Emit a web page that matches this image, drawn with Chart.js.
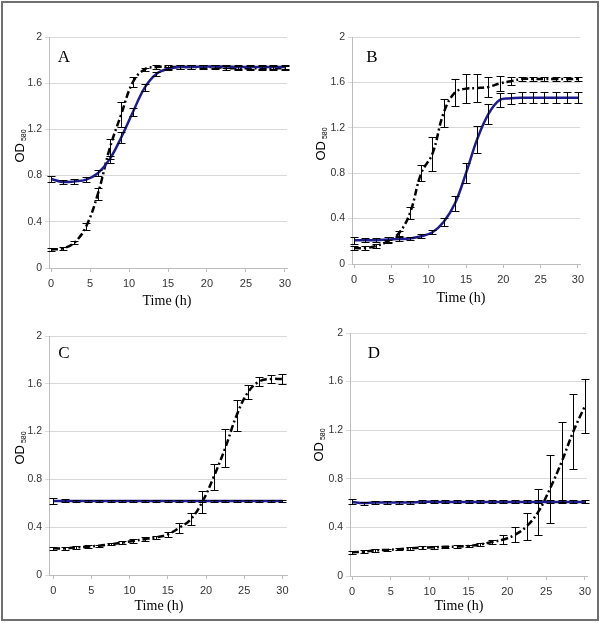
<!DOCTYPE html>
<html>
<head>
<meta charset="utf-8">
<script src="https://cdn.jsdelivr.net/npm/chart.js@4.4.1/dist/chart.umd.min.js"></script>
<style>
  body { margin: 0; background: #fff; }
  #fig { position: relative; width: 600px; height: 623px; overflow: hidden; }
  #frame { position: absolute; left: 1px; top: 1px; width: 594px; height: 616px; border: 2px solid #707070; }
  canvas { position: absolute; }
</style>
</head>
<body>
<div id="fig">
  <div id="frame"></div>
  <canvas id="chartA" width="300" height="312" style="left:0;top:0"></canvas>
  <canvas id="chartB" width="300" height="312" style="left:300px;top:0"></canvas>
  <canvas id="chartC" width="300" height="311" style="left:0;top:312px"></canvas>
  <canvas id="chartD" width="300" height="311" style="left:300px;top:312px"></canvas>
</div>
<script>
// sampling times (h)
const hours = [0, 1.5, 3, 4.5, 6, 7.5, 9, 10.5, 12, 13.5, 15, 16.5, 18, 19.5, 21, 22.5, 24, 25.5, 27, 28.5, 30];
const xTicks = [0, 5, 10, 15, 20, 25, 30];
const yTicks = [0, 0.4, 0.8, 1.2, 1.6, 2];
const yTickLabels = ['0', '0.4', '0.8', '1.2', '1.6', '2'];

// panel A
const aDashed = [0.16, 0.17, 0.22, 0.36, 0.64, 1.03, 1.33, 1.61, 1.72, 1.74, 1.74, 1.74, 1.74, 1.74, 1.74, 1.73, 1.73, 1.73, 1.73, 1.73, 1.73];
const aDashedErr = [0.015, 0.012, 0.015, 0.03, 0.055, 0.085, 0.11, 0.04, 0.015, 0.015, 0.015, 0.015, 0.015, 0.015, 0.015, 0.015, 0.015, 0.015, 0.015, 0.015, 0.015];
const aSolid = [0.77, 0.745, 0.75, 0.765, 0.82, 0.94, 1.13, 1.35, 1.56, 1.68, 1.725, 1.74, 1.74, 1.745, 1.745, 1.745, 1.74, 1.74, 1.74, 1.74, 1.74];
const aSolidErr = [0.025, 0.02, 0.02, 0.02, 0.025, 0.03, 0.045, 0.035, 0.03, 0.015, 0.015, 0.015, 0.015, 0.015, 0.015, 0.015, 0.015, 0.015, 0.015, 0.015, 0.015];

// panel B
const bDashed = [0.14, 0.14, 0.16, 0.20, 0.27, 0.45, 0.80, 0.97, 1.33, 1.51, 1.545, 1.55, 1.56, 1.59, 1.61, 1.63, 1.63, 1.63, 1.63, 1.63, 1.63];
const bDashedErr = [0.015, 0.015, 0.015, 0.015, 0.02, 0.05, 0.07, 0.15, 0.12, 0.12, 0.13, 0.12, 0.09, 0.07, 0.035, 0.02, 0.02, 0.02, 0.02, 0.02, 0.02];
const bSolid = [0.21, 0.21, 0.21, 0.215, 0.22, 0.225, 0.245, 0.28, 0.37, 0.53, 0.80, 1.10, 1.32, 1.445, 1.46, 1.465, 1.465, 1.465, 1.465, 1.465, 1.465];
const bSolidErr = [0.03, 0.02, 0.02, 0.02, 0.02, 0.015, 0.02, 0.02, 0.035, 0.065, 0.09, 0.12, 0.09, 0.06, 0.05, 0.05, 0.05, 0.05, 0.05, 0.05, 0.05];

// panel C
const cDashed = [0.223, 0.223, 0.23, 0.237, 0.245, 0.257, 0.27, 0.285, 0.30, 0.315, 0.34, 0.395, 0.466, 0.61, 0.82, 1.06, 1.335, 1.53, 1.62, 1.64, 1.64];
const cDashedErr = [0.015, 0.015, 0.01, 0.01, 0.01, 0.01, 0.012, 0.015, 0.015, 0.015, 0.02, 0.04, 0.05, 0.09, 0.105, 0.16, 0.13, 0.06, 0.035, 0.035, 0.04];
const cSolid = [0.62, 0.62, 0.62, 0.62, 0.62, 0.62, 0.62, 0.62, 0.62, 0.62, 0.62, 0.62, 0.62, 0.62, 0.62, 0.62, 0.62, 0.62, 0.62, 0.62, 0.62];
const cSolidErr = [0.025, 0.012, 0.01, 0.01, 0.01, 0.01, 0.01, 0.01, 0.01, 0.01, 0.01, 0.01, 0.01, 0.01, 0.01, 0.01, 0.01, 0.01, 0.01, 0.01, 0.01];

// panel D
const dDashed = [0.195, 0.20, 0.21, 0.215, 0.22, 0.228, 0.233, 0.236, 0.24, 0.242, 0.247, 0.26, 0.28, 0.30, 0.34, 0.41, 0.53, 0.72, 0.94, 1.19, 1.40];
const dDashedErr = [0.01, 0.01, 0.01, 0.01, 0.01, 0.01, 0.01, 0.01, 0.01, 0.01, 0.01, 0.012, 0.02, 0.035, 0.06, 0.11, 0.19, 0.28, 0.33, 0.31, 0.22];
const dSolid = [0.61, 0.60, 0.605, 0.605, 0.605, 0.605, 0.61, 0.61, 0.61, 0.61, 0.61, 0.61, 0.61, 0.61, 0.61, 0.61, 0.61, 0.61, 0.61, 0.61, 0.61];
const dSolidErr = [0.02, 0.012, 0.012, 0.012, 0.012, 0.012, 0.012, 0.012, 0.012, 0.012, 0.012, 0.012, 0.012, 0.012, 0.012, 0.012, 0.012, 0.012, 0.012, 0.012, 0.012];

const sans = '"Liberation Sans", Arial, sans-serif';
const serif = '"Liberation Serif", "Times New Roman", serif';

// draws the black error bars on top of both curves
const errorBars = {
  id: 'errorBars',
  afterDatasetsDraw(chart) {
    const { ctx, scales: { x, y } } = chart;
    ctx.save();
    ctx.strokeStyle = '#000';
    ctx.lineWidth = 1;
    chart.data.datasets.forEach(ds => {
      ds.errors.forEach((e, i) => {
        const px = Math.round(x.getPixelForValue(hours[i])) + 0.5;
        const top = Math.round(y.getPixelForValue(ds.data[i].y + e)) + 0.5;
        const bot = Math.round(y.getPixelForValue(ds.data[i].y - e)) + 0.5;
        ctx.beginPath();
        ctx.moveTo(px, top); ctx.lineTo(px, bot);
        ctx.moveTo(px - 4, top); ctx.lineTo(px + 4, top);
        ctx.moveTo(px - 4, bot); ctx.lineTo(px + 4, bot);
        ctx.stroke();
      });
    });
    ctx.restore();
  }
};

// panel letter, x title and the OD580 y title
const panelText = {
  id: 'panelText',
  afterDraw(chart) {
    const o = chart.options.plugins.panelText;
    const ctx = chart.ctx;
    ctx.save();
    ctx.fillStyle = '#000';
    ctx.textAlign = 'center';
    ctx.textBaseline = 'middle';
    ctx.font = '17px ' + serif;
    ctx.fillText(o.letter, o.letterX, o.letterY);
    ctx.font = '14px ' + serif;
    ctx.fillText('Time (h)', o.xTitleX, o.xTitleY);

    ctx.translate(o.yTitleX, o.yTitleY);
    ctx.rotate(-Math.PI / 2);
    ctx.textAlign = 'left';
    ctx.textBaseline = 'alphabetic';
    ctx.font = '13px ' + sans;
    const w1 = ctx.measureText('OD').width;
    ctx.font = '7px ' + sans;
    const w2 = ctx.measureText('580').width;
    const start = -(w1 + 2 + w2) / 2;
    ctx.font = '13px ' + sans;
    ctx.fillText('OD', start, 5);
    ctx.font = '7px ' + sans;
    ctx.fillText('580', start + w1 + 2, 7);
    ctx.restore();
  }
};

function makeChart(id, box, plot, xMin, xMax, dashed, dashedErr, solid, solidErr, text) {
  const toPoints = vals => hours.map((t, i) => ({ x: t, y: vals[i] }));
  const xAxisH = 20;
  return new Chart(document.getElementById(id), {
    type: 'line',
    data: {
      datasets: [
        {
          label: 'solid',
          data: toPoints(solid),
          errors: solidErr,
          borderColor: '#1c1c8e',
          borderWidth: 2.5,
          pointRadius: 0,
          tension: 0.4,
          fill: false
        },
        {
          label: 'dashed',
          data: toPoints(dashed),
          errors: dashedErr,
          borderColor: '#000',
          borderWidth: 2.5,
          borderDash: [7, 3, 2, 3],
          pointRadius: 0,
          tension: 0.4,
          fill: false
        }
      ]
    },
    options: {
      responsive: false,
      animation: false,
      devicePixelRatio: 1,
      layout: {
        padding: {
          left: 0,
          top: plot.t - box.y,
          right: box.x + box.w - plot.r,
          bottom: box.y + box.h - plot.b - xAxisH
        }
      },
      scales: {
        x: {
          type: 'linear',
          min: xMin,
          max: xMax,
          afterBuildTicks: s => { s.ticks = xTicks.map(v => ({ value: v })); },
          afterFit: s => { s.height = xAxisH; },
          ticks: { font: { family: sans, size: 11 }, color: '#333', padding: 5, maxRotation: 0, autoSkip: false },
          grid: { drawOnChartArea: false, drawTicks: true, tickLength: 4, color: '#bdbdbd' },
          border: { color: '#bdbdbd' }
        },
        y: {
          min: 0,
          max: 2,
          afterBuildTicks: s => { s.ticks = yTicks.map(v => ({ value: v })); },
          afterFit: s => { s.width = plot.l - box.x; },
          ticks: {
            font: { family: sans, size: 10.5 },
            color: '#333',
            padding: 3,
            callback: (v, i) => yTickLabels[i]
          },
          grid: { color: '#d9d9d9', tickLength: 4 },
          border: { color: '#bdbdbd' }
        }
      },
      plugins: {
        legend: { display: false },
        tooltip: { enabled: false },
        panelText: {
          letter: text.letter,
          letterX: text.letter_x - box.x, letterY: text.letter_y - box.y,
          xTitleX: text.xt_x - box.x, xTitleY: text.xt_y - box.y,
          yTitleX: text.yt_x - box.x, yTitleY: text.yt_y - box.y
        }
      }
    },
    plugins: [errorBars, panelText]
  });
}

makeChart('chartA', { x: 0, y: 0, w: 300, h: 312 }, { l: 49, r: 287, t: 37, b: 268 }, -0.26, 30.26,
  aDashed, aDashedErr, aSolid, aSolidErr,
  { letter: 'A', letter_x: 64, letter_y: 58, xt_x: 167, xt_y: 301, yt_x: 19, yt_y: 146 });

makeChart('chartB', { x: 300, y: 0, w: 300, h: 312 }, { l: 352, r: 580, t: 37, b: 264 }, -0.27, 30.27,
  bDashed, bDashedErr, bSolid, bSolidErr,
  { letter: 'B', letter_x: 372, letter_y: 58, xt_x: 461, xt_y: 298, yt_x: 320, yt_y: 144 });

makeChart('chartC', { x: 0, y: 312, w: 300, h: 311 }, { l: 49, r: 287, t: 336, b: 575 }, -0.55, 30.6,
  cDashed, cDashedErr, cSolid, cSolidErr,
  { letter: 'C', letter_x: 64, letter_y: 354, xt_x: 159, xt_y: 606, yt_x: 19, yt_y: 448 });

makeChart('chartD', { x: 300, y: 312, w: 300, h: 311 }, { l: 350, r: 587, t: 333, b: 576 }, -0.26, 30.26,
  dDashed, dDashedErr, dSolid, dSolidErr,
  { letter: 'D', letter_x: 374, letter_y: 354, xt_x: 459, xt_y: 606, yt_x: 318, yt_y: 445 });
</script>
</body>
</html>
